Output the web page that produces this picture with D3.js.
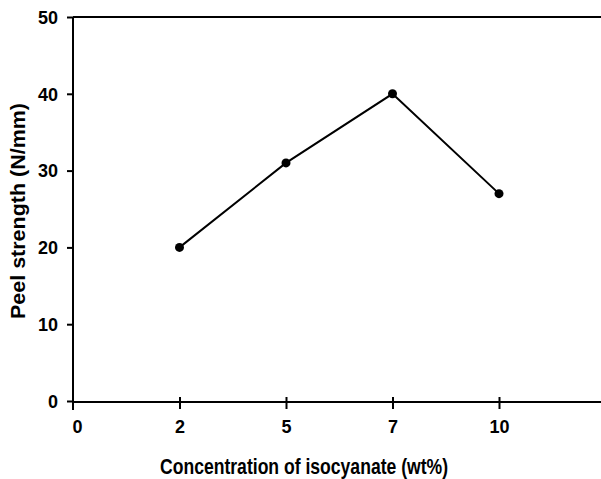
<!DOCTYPE html>
<html>
<head>
<meta charset="utf-8">
<script src="https://cdn.jsdelivr.net/npm/d3@7"></script>
<style>
  body { margin: 0; background: #fff; }
  text { font-family: "Liberation Sans", Arial, sans-serif; font-weight: bold; }
</style>
</head>
<body>
<div id="chart"></div>
<script>
// data
var concentrations = ["2", "5", "7", "10"];
var peelStrength = [20, 31, 40, 27];
var xTickLabels = ["0", "2", "5", "7", "10"];
var yTicks = [0, 10, 20, 30, 40, 50];

var W = 601, H = 479;
var svg = d3.select("#chart").append("svg").attr("width", W).attr("height", H);

// x is categorical, evenly spaced slots: 0 at the y axis, then 2, 5, 7, 10
var x = d3.scaleLinear().domain([0, 5]).range([73, 605.5]);
var y = d3.scaleLinear().domain([0, 50]).range([401, 17]);
var xPos = function(lbl) { return x(xTickLabels.indexOf(lbl)); };

// top frame line
svg.append("line").attr("x1", 73).attr("x2", W).attr("y1", y(50)).attr("y2", y(50))
  .attr("stroke", "#000").attr("stroke-width", 2);

// y axis
var yAxis = svg.append("g").attr("transform", "translate(73,0)")
  .call(d3.axisLeft(y).tickValues(yTicks).tickSize(6).tickPadding(9).tickSizeOuter(0));
yAxis.select(".domain").attr("stroke-width", 2).attr("d", "M0," + y(50) + "V" + (y(0) + 9));
yAxis.selectAll(".tick line").attr("stroke-width", 2);
yAxis.selectAll(".tick text").style("font-size", "18px").attr("fill", "#000").attr("dy", "0.35em");

// x axis
var xAxis = svg.append("g").attr("transform", "translate(0," + (y(0) + 1) + ")")
  .call(d3.axisBottom(x).tickValues(d3.range(xTickLabels.length))
    .tickFormat(function(d) { return xTickLabels[d]; }).tickSize(7).tickPadding(18).tickSizeOuter(0));
xAxis.select(".domain").attr("stroke-width", 2).attr("d", "M73,0H" + W);
xAxis.selectAll(".tick line").attr("stroke-width", 2).attr("y1", -5);
xAxis.selectAll(".tick text").style("font-size", "18px").attr("fill", "#000").attr("dy", "0.35em");
var zeroTick = xAxis.selectAll(".tick").filter(function(d) { return d === 0; });
zeroTick.select("line").remove();
zeroTick.select("text").attr("dx", 4);

// data line
var pts = concentrations.map(function(c, i) { return [xPos(c), y(peelStrength[i])]; });
svg.append("path").attr("d", d3.line()(pts)).attr("fill", "none")
  .attr("stroke", "#000").attr("stroke-width", 2);
svg.selectAll("circle.pt").data(pts).enter().append("circle").attr("class", "pt")
  .attr("cx", function(d) { return d[0]; }).attr("cy", function(d) { return d[1]; })
  .attr("r", 4.5).attr("fill", "#000");

// axis titles
svg.append("text").attr("x", 304).attr("y", 474).attr("text-anchor", "middle")
  .attr("textLength", 288).attr("lengthAdjust", "spacingAndGlyphs")
  .style("font-size", "22px").text("Concentration of isocyanate (wt%)");
svg.append("text").attr("transform", "translate(25,211) rotate(-90)").attr("text-anchor", "middle")
  .attr("textLength", 216).attr("lengthAdjust", "spacingAndGlyphs")
  .style("font-size", "21px").text("Peel strength (N/mm)");
</script>
</body>
</html>
